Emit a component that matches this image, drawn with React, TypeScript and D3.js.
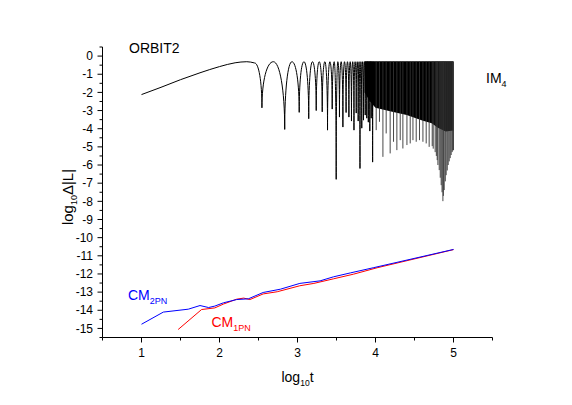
import React from 'react';
import * as d3 from 'd3';

const W = 572;
const H = 405;

// axis ticks
const xMajor = [1, 2, 3, 4, 5];
const xMinor = [0.5, 1.5, 2.5, 3.5, 4.5, 5.5];
const yMajor = [0, -1, -2, -3, -4, -5, -6, -7, -8, -9, -10, -11, -12, -13, -14, -15];
const yMinor = [0.5, -0.5, -1.5, -2.5, -3.5, -4.5, -5.5, -6.5, -7.5, -8.5, -9.5, -10.5, -11.5, -12.5, -13.5, -14.5, -15.5];

// IM4: smooth rise before the oscillations start
const imSmoothT = [1.0, 1.25, 1.5, 1.75, 2.0, 2.2, 2.35, 2.45];
const imSmoothV = [-2.12, -1.72, -1.3, -0.92, -0.58, -0.37, -0.31, -0.38];
const imTop = -0.31;

// IM4: resolved minima
const imDipT = [2.544, 2.836, 3.022, 3.144, 3.24, 3.317, 3.385, 3.445, 3.496, 3.538, 3.582, 3.623, 3.659,
  3.692, 3.724, 3.753, 3.778, 3.801, 3.824, 3.846, 3.868, 3.888, 3.908, 3.927, 3.945, 3.963];
const imDipV = [-2.85, -4.04, -3.1, -3.45, -3.0, -3.07, -4.08, -2.92, -6.79, -3.36, -3.91, -3.11, -3.36,
  -3.58, -4.08, -3.14, -3.58, -6.19, -3.97, -3.53, -3.25, -3.42, -3.64, -4.13, -3.42, -5.84];

// IM4: dense part, lower edge of the solid band
const imBandT = [3.86, 3.93, 4.0, 4.2, 4.4, 4.6, 4.72, 4.8, 4.9, 5.0];
const imBandV = [-2.0, -2.5, -2.85, -3.05, -3.25, -3.55, -3.7, -3.95, -4.15, -4.1];

// IM4: deepest samples inside the dense part
const imSpikeT = [4.009, 4.051, 4.095, 4.137, 4.188, 4.231, 4.274, 4.317, 4.351, 4.403, 4.445, 4.48, 4.522,
  4.564, 4.608, 4.65, 4.688, 4.727, 4.74, 4.765, 4.78, 4.791, 4.8, 4.817, 4.83, 4.842, 4.853, 4.864, 4.87,
  4.881, 4.895, 4.906, 4.92, 4.932, 4.945, 4.958, 4.97, 4.983, 4.99, 5.0];
const imSpikeV = [-4.08, -3.62, -5.55, -4.26, -5.36, -4.72, -5.18, -4.63, -5.09, -4.9, -4.81, -4.63, -4.72,
  -4.63, -4.72, -4.81, -5.0, -4.96, -5.1, -5.29, -5.5, -5.73, -6.0, -6.28, -6.7, -7.11, -7.5, -7.99, -7.7,
  -7.38, -6.9, -6.56, -6.3, -6.0, -5.8, -5.62, -5.45, -5.29, -5.2, -5.18];

// CM curves
const cm2T = [1.0, 1.28, 1.6, 1.75, 1.86, 1.94, 2.05, 2.22, 2.37, 2.56, 2.78, 3.03, 3.29, 3.46, 3.68, 3.97, 5.0];
const cm2V = [-14.77, -14.1, -13.94, -13.74, -13.85, -13.77, -13.59, -13.41, -13.37, -13.02, -12.84, -12.52,
  -12.38, -12.16, -11.94, -11.66, -10.65];
const cm1T = [1.47, 1.77, 1.94, 2.05, 2.22, 2.31, 2.39, 2.56, 2.74, 3.03, 3.21, 3.46, 3.72, 4.02, 5.0];
const cm1V = [-15.06, -13.96, -13.87, -13.66, -13.39, -13.33, -13.41, -13.1, -12.98, -12.65, -12.52, -12.27,
  -12.01, -11.66, -10.66];

const FONT = "'Liberation Sans', Arial, sans-serif";

const x = d3.scaleLinear().domain([0.5, 5.5]).range([102.5, 492.5]);
const y = d3.scaleLinear().domain([-15.5, 0.5]).range([337.5, 47]);

function imPath() {
  const p = d3.path();
  d3.line<number>()
    .x(i => x(imSmoothT[i]))
    .y(i => y(imSmoothV[i]))
    .curve(d3.curveMonotoneX)
    .context(p)(d3.range(imSmoothT.length));

  const yt = y(imTop);
  let px = x(imSmoothT[imSmoothT.length - 1]);
  let py = y(imSmoothV[imSmoothV.length - 1]);
  imDipT.forEach((t, i) => {
    const xd = x(t);
    const yd = y(imDipV[i]);
    let x0 = px;
    let y0 = py;
    if (i > 0) {
      // climb up to the top of the arch
      const xm = (px + xd) / 2;
      p.bezierCurveTo(px, py - 0.6 * (py - yt), xm - 0.55 * (xm - px), yt, xm, yt);
      x0 = xm;
      y0 = yt;
    }
    // fall into the minimum
    p.bezierCurveTo(x0 + 0.55 * (xd - x0), y0, xd, yd - 0.6 * (yd - y0), xd, yd);
    px = xd;
    py = yd;
  });
  p.bezierCurveTo(px, py - 0.6 * (py - yt), px + 0.5, yt, px + 1, yt);
  return p.toString();
}

const bandArea = d3.area<number>()
  .x(i => x(imBandT[i]))
  .y0(() => y(imTop) - 0.5)
  .y1(i => y(imBandV[i]));

const lineOf = (ts: number[], vs: number[]) =>
  d3.line<number>().x(i => x(ts[i])).y(i => y(vs[i]))(d3.range(ts.length)) || '';

export default function App() {
  const axisY = x(0.5);
  const axisX = y(-15.5);
  return (
    <svg width={W} height={H} style={{ position: 'absolute', left: 0, top: 0, background: '#fff' }}
      fontFamily={FONT}>
      <rect width={W} height={H} fill="#fff" />

      {/* IM4 */}
      <path d={bandArea(d3.range(imBandT.length)) || ''} fill="#000" />
      {imSpikeT.map((t, i) => (
        <line key={i} x1={x(t)} x2={x(t)} y1={y(imTop)} y2={y(imSpikeV[i])} stroke="#333" strokeWidth={0.9} />
      ))}
      <path d={imPath()} fill="none" stroke="#000" strokeWidth={1} />

      {/* CM */}
      <path d={lineOf(cm1T, cm1V)} fill="none" stroke="#ff0000" strokeWidth={1} />
      <path d={lineOf(cm2T, cm2V)} fill="none" stroke="#0000ff" strokeWidth={1} />

      {/* axes */}
      <line x1={axisY} x2={axisY} y1={y(0.5)} y2={axisX} stroke="#000" />
      <line x1={x(0.5)} x2={x(5.5)} y1={axisX} y2={axisX} stroke="#000" />
      {yMajor.map(v => (
        <g key={'ym' + v}>
          <line x1={axisY - 5} x2={axisY} y1={y(v)} y2={y(v)} stroke="#000" />
          <text x={93} y={y(v)} dy="0.35em" textAnchor="end" fontSize={12}>{v}</text>
        </g>
      ))}
      {yMinor.map(v => (
        <line key={'yn' + v} x1={axisY - 3} x2={axisY} y1={y(v)} y2={y(v)} stroke="#000" />
      ))}
      {xMajor.map(v => (
        <g key={'xm' + v}>
          <line x1={x(v)} x2={x(v)} y1={axisX} y2={axisX + 5} stroke="#000" />
          <text x={x(v)} y={357} textAnchor="middle" fontSize={12}>{v}</text>
        </g>
      ))}
      {xMinor.map(v => (
        <line key={'xn' + v} x1={x(v)} x2={x(v)} y1={axisX} y2={axisX + 3} stroke="#000" />
      ))}

      {/* titles */}
      <text x={297.5} y={382} textAnchor="middle" fontSize={14}>
        log<tspan fontSize={8.5} dy={4}>10</tspan><tspan dy={-4}>t</tspan>
      </text>
      <text transform="translate(73,197) rotate(-90)" textAnchor="middle" fontSize={15}>
        log<tspan fontSize={9} dy={4}>10</tspan><tspan dy={-4}>Δ|L|</tspan>
      </text>

      {/* labels */}
      <text x={129} y={53} fontSize={14}>ORBIT2</text>
      <text x={486} y={83} fontSize={14}>IM<tspan fontSize={9} dy={4}>4</tspan></text>
      <text x={128} y={300} fontSize={14} fill="#0000ff">CM<tspan fontSize={9} dy={4}>2PN</tspan></text>
      <text x={211.5} y={326.5} fontSize={14} fill="#ff0000">CM<tspan fontSize={9} dy={4}>1PN</tspan></text>
    </svg>
  );
}
